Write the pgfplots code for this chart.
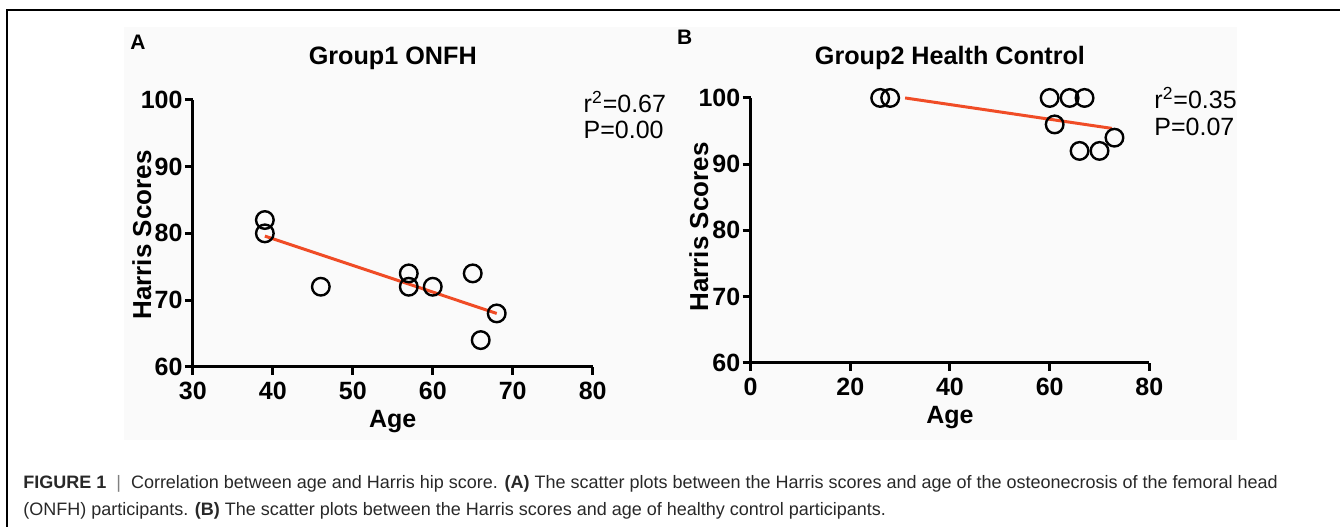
\documentclass[border=0pt]{standalone}
\usepackage{fontspec}
\setmainfont{Liberation Sans}
\usepackage{pgfplots}
\pgfplotsset{compat=1.18}
\definecolor{fitred}{RGB}{240,76,38}
\definecolor{capgray}{RGB}{40,40,40}
\definecolor{bggray}{RGB}{250,250,250}

\pgfplotsset{
  hipstyle/.style={
    scale only axis,
    axis lines*=left,
    axis line style={line width=1.5pt},
    tick align=outside,
    major tick length=4pt,
    tick style={line width=1.5pt,black},
    /pgf/number format/assume math mode=true,
    ticklabel style={font=\fontsize{12.5}{14}\selectfont\bfseries},
    yticklabel style={inner sep=1pt},
    label style={font=\fontsize{12.5}{14}\selectfont\bfseries},
    ylabel style={font=\fontsize{13}{14}\selectfont\bfseries},
    title style={font=\fontsize{12.6}{14}\selectfont\bfseries},
    ytick={60,70,80,90,100},
    ymin=60, ymax=100,
    clip=false,
  },
  pts/.style={only marks,mark=o,mark size=4.4pt,black,mark options={line width=1.2pt}},
  fit/.style={fitred,line width=1.5pt},
}

\begin{document}
\begin{tikzpicture}
% page frame and figure background
\path (0,0) rectangle (670.5pt,263.5pt);
\fill[bggray] (62pt,43.5pt) rectangle (619pt,250pt);
\draw[line width=0.75pt] (3.5pt,0pt) -- (3.5pt,258.5pt) -- (670.5pt,258.5pt);

% panel A
\begin{axis}[hipstyle,
  at={(96.5pt,80pt)}, anchor=south west,
  width=200pt, height=133.5pt,
  xmin=30, xmax=80, xtick={30,40,50,60,70,80},
  xlabel={Age}, ylabel={Harris Scores},
  xlabel style={at={(axis description cs:0.5,-0.206)},anchor=center},
  ylabel style={at={(axis description cs:-0.128,0.494)},anchor=center,rotate=0},
  title={Group1 ONFH},
  title style={at={(axis description cs:0.5,1.112)},anchor=center},
]
\addplot[pts] coordinates {(39,82)(39,80)(46,72)(57,74)(57,72)(60,72)(65,74)(68,68)(66,64)};
\addplot[fit] coordinates {(39,79.6)(68,68.0)};
\node[font=\fontsize{10.5}{12}\selectfont\bfseries] at (axis description cs:-0.1375,1.217) {A};
\node[font=\fontsize{12.5}{14}\selectfont,anchor=west] at (axis description cs:0.96,0.9925) {r\textsuperscript{2}=0.67};
\node[font=\fontsize{12.5}{14}\selectfont,anchor=west] at (axis description cs:0.96,0.888) {P=0.00};
\end{axis}

% panel B
\begin{axis}[hipstyle,
  at={(375.5pt,82pt)}, anchor=south west,
  width=199.5pt, height=132.5pt,
  xmin=0, xmax=80, xtick={0,20,40,60,80},
  xlabel={Age}, ylabel={Harris Scores},
  xlabel style={at={(axis description cs:0.5,-0.2075)},anchor=center},
  ylabel style={at={(axis description cs:-0.13,0.513)},anchor=center,rotate=0},
  title={Group2 Health Control},
  title style={at={(axis description cs:0.5,1.106)},anchor=center},
]
\addplot[pts] coordinates {(26,100)(28,100)(60,100)(64,100)(67,100)(61,96)(66,92)(70,92)(73,94)};
\addplot[fit] coordinates {(31,100.0)(72.5,95.4)};
\node[font=\fontsize{10.5}{12}\selectfont\bfseries] at (axis description cs:-0.165,1.23) {B};
\node[font=\fontsize{12.5}{14}\selectfont,anchor=west] at (axis description cs:0.995,1.0) {r\textsuperscript{2}=0.35};
\node[font=\fontsize{12.5}{14}\selectfont,anchor=west] at (axis description cs:0.995,0.89) {P=0.07};
\end{axis}

% caption
\node[anchor=west,font=\fontsize{9}{11}\selectfont,text=capgray,inner sep=0pt] at (11.5pt,21.5pt)
  {\textbf{FIGURE 1}\ \ {\color{gray}|}\ \ Correlation between age and Harris hip score. \textbf{(A)} The scatter plots between the Harris scores and age of the osteonecrosis of the femoral head};
\node[anchor=west,font=\fontsize{9}{11}\selectfont,text=capgray,inner sep=0pt] at (11.5pt,8pt)
  {(ONFH) participants. \textbf{(B)} The scatter plots between the Harris scores and age of healthy control participants.};
\end{tikzpicture}
\end{document}
